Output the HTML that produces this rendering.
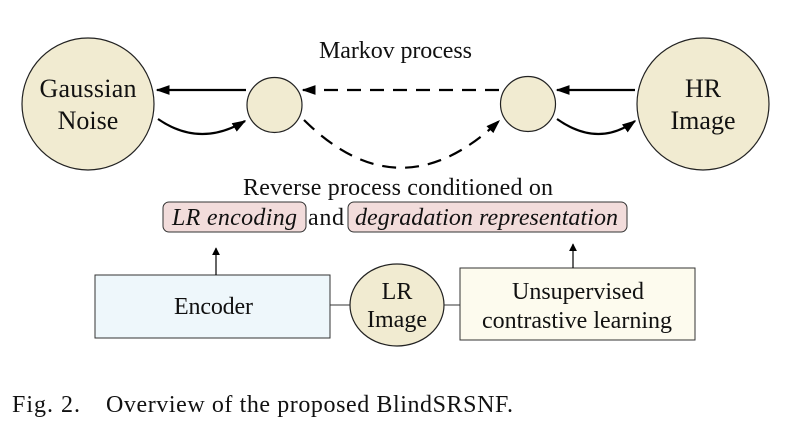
<!DOCTYPE html>
<html><head><style>
body{margin:0;background:#fff}
svg text{font-family:"Liberation Serif",serif;fill:#111}
</style></head><body>
<svg width="795" height="443" viewBox="0 0 795 443" xmlns="http://www.w3.org/2000/svg">
<defs>
<marker id="a" viewBox="0 0 10 10" refX="9" refY="5" markerWidth="8" markerHeight="8" markerUnits="userSpaceOnUse" orient="auto"><path d="M0,0L10,5L0,10z" fill="#000"/></marker>
<marker id="b" viewBox="0 0 10 10" refX="9" refY="5" markerWidth="14" markerHeight="14" markerUnits="userSpaceOnUse" orient="auto"><path d="M0,1.5L10,5L0,8.5z" fill="#000"/></marker>
</defs>
<g fill="#f1ebd1" stroke="#222" stroke-width="1.2">
<circle cx="88" cy="104" r="66"/>
<circle cx="274.5" cy="105" r="27.5"/>
<circle cx="528" cy="104" r="27.5"/>
<circle cx="703" cy="104" r="66"/>
<ellipse cx="397" cy="305" rx="47" ry="41"/>
</g>
<text x="88" y="97" font-size="26" text-anchor="middle" textLength="97">Gaussian</text>
<text x="88" y="129" font-size="26" text-anchor="middle">Noise</text>
<text x="703" y="97" font-size="26" text-anchor="middle">HR</text>
<text x="703" y="129" font-size="26" text-anchor="middle">Image</text>
<g stroke="#000" stroke-width="2.2" fill="none">
<line x1="246" y1="90" x2="157" y2="90" marker-end="url(#b)"/>
<path d="M158,119 Q200,148 245,121" marker-end="url(#b)"/>
<line x1="635" y1="90" x2="557" y2="90" marker-end="url(#b)"/>
<path d="M557,119 Q598,148 635,121" marker-end="url(#b)"/>
<line x1="499" y1="90" x2="303" y2="90" stroke-dasharray="14,9" marker-end="url(#b)"/>
<path d="M304,120 Q400,215 499,121" stroke-dasharray="14,9" marker-end="url(#b)"/>
</g>
<text x="319" y="58" font-size="24" textLength="153">Markov process</text>
<text x="243" y="195" font-size="24" textLength="310">Reverse process conditioned on</text>
<rect x="163" y="202" width="143" height="30" rx="6" fill="#f2dcdb" stroke="#333"/>
<rect x="348" y="202" width="279" height="30" rx="6" fill="#f2dcdb" stroke="#333"/>
<text x="172" y="225" font-size="24" font-style="italic" textLength="125">LR encoding</text>
<text x="308" y="225" font-size="24" textLength="36">and</text>
<text x="355" y="225" font-size="24" font-style="italic" textLength="263">degradation representation</text>
<rect x="95" y="275" width="235" height="63" fill="#eef7fb" stroke="#333"/>
<rect x="460" y="268" width="235" height="72" fill="#fdfbee" stroke="#333"/>
<line x1="330" y1="305" x2="350" y2="305" stroke="#333"/>
<line x1="444" y1="305" x2="460" y2="305" stroke="#333"/>
<g stroke="#000" stroke-width="1.2">
<line x1="216" y1="275" x2="216" y2="248" marker-end="url(#a)"/>
<line x1="573" y1="268" x2="573" y2="244" marker-end="url(#a)"/>
</g>
<text x="174" y="314" font-size="24" textLength="79">Encoder</text>
<text x="397" y="299" font-size="24" text-anchor="middle">LR</text>
<text x="397" y="327" font-size="24" text-anchor="middle">Image</text>
<text x="578" y="299" font-size="24" text-anchor="middle">Unsupervised</text>
<text x="482" y="328" font-size="24" textLength="190">contrastive learning</text>
<text x="12" y="412" font-size="24" textLength="68">Fig. 2.</text>
<text x="106" y="412" font-size="24" textLength="407">Overview of the proposed BlindSRSNF.</text>
</svg>
</body></html>
